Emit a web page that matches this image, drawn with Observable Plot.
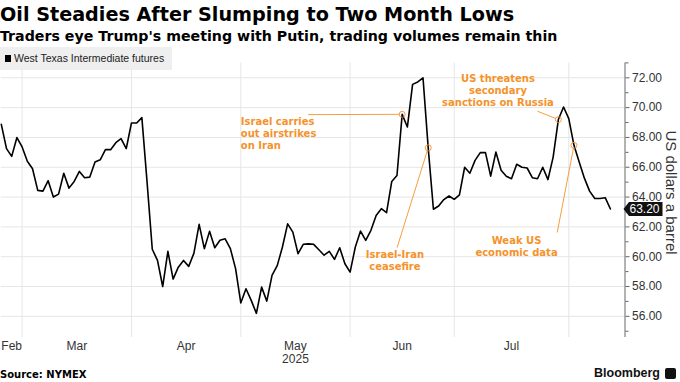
<!DOCTYPE html>
<html>
<head>
<meta charset="utf-8">
<script src="https://cdn.jsdelivr.net/npm/d3@7"></script>
<script src="https://cdn.jsdelivr.net/npm/@observablehq/plot@0.6"></script>
<style>
  html,body{margin:0;padding:0;background:#fff;}
  #root{position:relative;width:680px;height:382px;overflow:hidden;}
  .t{position:absolute;left:0;white-space:nowrap;}
  #title{top:3px;font:bold 19.2px "DejaVu Sans",sans-serif;color:#000;line-height:24px;}
  #subtitle{top:27px;font:bold 14.2px "DejaVu Sans",sans-serif;color:#000;line-height:18px;}
  #legend{top:47px;width:172px;height:23px;background:#efefef;z-index:2;font:10.5px "Liberation Sans",Arial,sans-serif;color:#222;line-height:23px;}
  #legend .sw{position:absolute;left:5px;top:8px;width:6px;height:7px;background:#000;}
  #legend .lt{position:absolute;left:14px;top:0;}
  #chart{position:absolute;left:0;top:44px;z-index:1;}
  #source{top:368px;font:bold 10px "DejaVu Sans",sans-serif;color:#000;line-height:13px;}
  #brand{top:366px;left:594px;font:bold 12.5px "Liberation Sans",Arial,sans-serif;color:#111;line-height:15px;}
  #logo{position:absolute;left:665px;top:368px;width:11px;height:11px;background:#111;border-radius:2px;}
</style>
</head>
<body>
<div id="root">
  <div id="title" class="t">Oil Steadies After Slumping to Two Month Lows</div>
  <div id="subtitle" class="t">Traders eye Trump's meeting with Putin, trading volumes remain thin</div>
  <div id="legend" class="t"><span class="sw"></span><span class="lt" id="legendText"></span></div>
  <div id="chart"></div>
  <div id="source" class="t">Source: NYMEX</div>
  <div id="brand" class="t">Bloomberg</div>
  <div id="logo"></div>
</div>
<script>
// ---- data ----
const seriesName = "West Texas Intermediate futures";
const unitLabel = "US dollars a barrel";
const yearLabel = "2025";
// daily WTI values, one per trading day (late Feb .. mid Aug 2025)
const values = [
  68.88, 67.25, 66.73, 67.99, 67.36, 66.40, 65.90, 64.45, 64.40, 65.10,
  64.00, 64.20, 65.60, 64.60, 65.05, 65.72, 65.30, 65.34, 66.35, 66.50,
  67.18, 67.18, 67.65, 67.92, 67.25, 68.97, 68.97, 69.33, 65.00, 60.50,
  59.75, 58.00, 60.36, 58.50, 59.30, 59.75, 59.35, 60.24, 62.17, 60.54,
  61.70, 60.60, 61.10, 61.20, 60.54, 59.20, 56.90, 57.85, 57.07, 56.20,
  57.96, 57.02, 58.75, 59.40, 60.65, 62.20, 61.65, 60.20, 60.83, 60.86,
  60.83, 60.47, 60.10, 60.36, 59.82, 60.60, 59.53, 58.97, 60.65, 61.72,
  61.10, 61.77, 62.77, 63.22, 62.95, 65.05, 65.45, 69.55, 68.70, 71.56,
  71.72, 72.00, 67.30, 63.18, 63.40, 63.83, 64.07, 63.85, 64.15, 66.00,
  65.60, 66.46, 66.98, 66.98, 65.40, 67.02, 65.80, 65.40, 65.23, 66.20,
  66.00, 65.95, 65.30, 65.23, 66.00, 65.17, 66.68, 69.20, 70.04, 69.26,
  67.47, 66.35, 65.27, 64.40, 63.90, 63.90, 63.96, 63.20
];
const monthNames = ["Feb", "Mar", "Apr", "May", "Jun", "Jul"];
// trading-day index where each month begins (Feb shown from index 0; last entry = Aug)
const monthBounds = [0, 4, 25, 46, 67, 87, 109];
const yMajor = [56, 58, 60, 62, 64, 66, 68, 70, 72];
const yMinor = [55, 57, 59, 61, 63, 65, 67, 69, 71, 73];
// annotations: text anchor (tx, ty), leader start (lx, ly), highlighted day index (p)
const annotations = [
  {label: "Israel carries\nout airstrikes\non Iran", anchor: "start", tx: 46, ty: 68.28, lx: 59.0, ly: 69.53, p: 77},
  {label: "US threatens\nsecondary\nsanctions on Russia", anchor: "middle", tx: 95.4, ty: 71.16, lx: 103.05, ly: 69.75, p: 107},
  {label: "Israel-Iran\nceasefire", anchor: "middle", tx: 75.6, ty: 59.75, lx: 76.05, ly: 60.64, p: 82},
  {label: "Weak US\neconomic data", anchor: "middle", tx: 98.96, ty: 60.72, lx: 106.8, ly: 61.65, p: 110}
];

// ---- chart ----
document.getElementById("legendText").textContent = seriesName;
const orange = "#f5922a";
const X_MAX = 119.8;
const data = values.map((v, i) => ({i, v}));
const last = data[data.length - 1];
const monthData = monthNames.map((name, k) => ({name, pos: (monthBounds[k] + monthBounds[k + 1]) / 2}));
const yearData = [{name: yearLabel, pos: monthData[monthNames.indexOf("May")].pos}];
const ann = annotations.map(a => ({...a, pv: values[a.p]}));
const tagSymbol = {draw(ctx) {
  ctx.moveTo(-1.5, 0); ctx.lineTo(4, -7); ctx.lineTo(37.5, -7);
  ctx.lineTo(37.5, 7); ctx.lineTo(4, 7); ctx.closePath();
}};
const annStyle = {x: "tx", y: "ty", text: "label", lineAnchor: "middle", lineHeight: 1.22, fontFamily: "DejaVu Sans", fontWeight: "bold", fontSize: 10, fill: orange};

const chart = Plot.plot({
  width: 680, height: 322,
  marginLeft: 0.8, marginRight: 55.5, marginTop: 18.4, marginBottom: 29,
  style: {fontFamily: '"Liberation Sans", Arial, sans-serif', fontSize: "12px", background: "transparent", color: "#333", overflow: "visible"},
  x: {domain: [0, X_MAX], axis: null},
  y: {domain: [54.58, 73], axis: null},
  marks: [
    Plot.ruleY(yMajor, {stroke: "#e6e6e6"}),
    Plot.ruleX(monthBounds.slice(1), {stroke: "#e6e6e6"}),
    Plot.ruleX([X_MAX], {stroke: "#666"}),
    Plot.axisY(yMajor, {anchor: "right", tickSize: 4, tickPadding: 3, tickFormat: d => d.toFixed(2), stroke: "#666", fill: "#333", fontSize: 12, label: null}),
    Plot.axisY(yMinor, {anchor: "right", tickSize: 3, tickFormat: () => "", stroke: "#666", label: null}),
    Plot.text([unitLabel], {frameAnchor: "right", text: d => d, rotate: 90, textAnchor: "middle", lineAnchor: "middle", dx: 45.5, dy: -7.7, fontSize: 15, fill: "#333"}),
    Plot.text(monthData, {x: "pos", text: "name", frameAnchor: "bottom", dy: 9, lineAnchor: "middle", fill: "#333", fontSize: 12}),
    Plot.text(yearData, {x: "pos", text: "name", frameAnchor: "bottom", dy: 22, lineAnchor: "middle", fill: "#333", fontSize: 12}),
    Plot.arrow(ann, {x1: "lx", y1: "ly", x2: "p", y2: "pv", headLength: 0, insetEnd: 3, stroke: orange, strokeWidth: 0.9}),
    Plot.line(data, {x: "i", y: "v", stroke: "#000", strokeWidth: 1.6}),
    Plot.dot(ann, {x: "p", y: "pv", r: 3, stroke: orange, strokeWidth: 0.9, fill: "none"}),
    Plot.text(ann.filter(a => a.anchor === "start"), {...annStyle, textAnchor: "start"}),
    Plot.text(ann.filter(a => a.anchor === "middle"), {...annStyle, textAnchor: "middle"}),
    Plot.dot([last], {x: () => X_MAX, y: "v", symbol: tagSymbol, fill: "#111", stroke: "none"}),
    Plot.text([last], {x: () => X_MAX, y: "v", text: d => d.v.toFixed(2), dx: 19.5, fill: "#fff", fontSize: 12, textAnchor: "middle"})
  ]
});
document.getElementById("chart").appendChild(chart);
</script>
</body>
</html>
